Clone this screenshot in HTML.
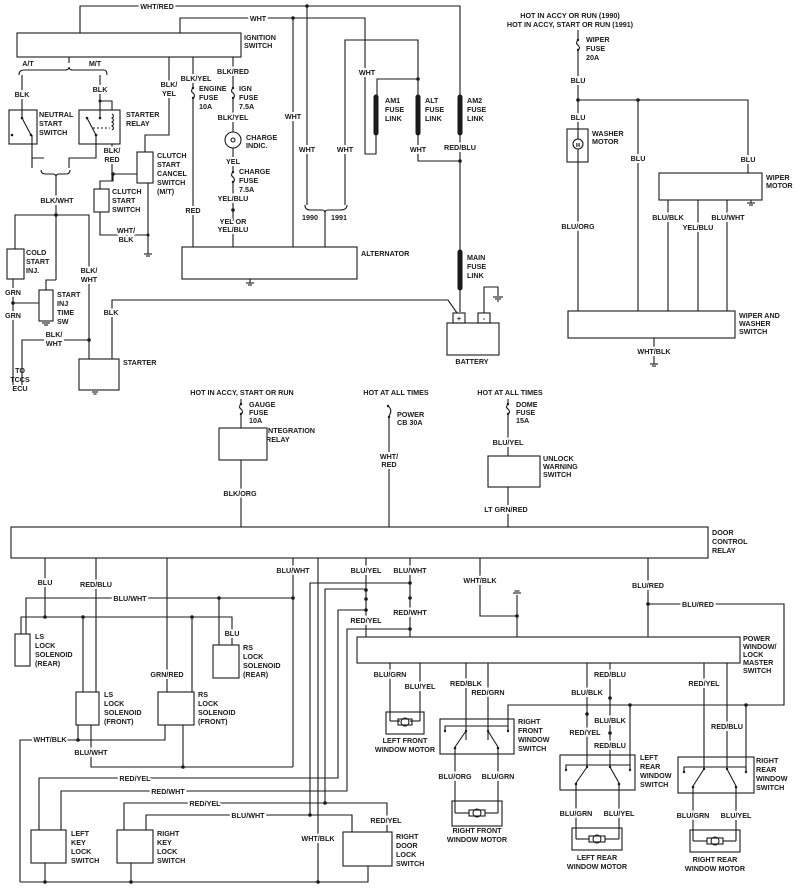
<!DOCTYPE html>
<html><head><meta charset="utf-8">
<style>
html,body{margin:0;padding:0;background:#fff;}
svg{display:block;}
text{font-family:"Liberation Sans",sans-serif;font-size:7.2px;fill:#1a1a1a;font-weight:bold;}
.m{text-anchor:middle;}
.w{paint-order:stroke;stroke:#fff;stroke-width:4px;stroke-linejoin:round;}
line,polyline,rect,path,circle{stroke:#1a1a1a;stroke-width:1.1;fill:none;}
.d{fill:#1a1a1a;stroke:none;}
.fl{stroke-width:5;stroke-linecap:round;}
</style></head><body>
<svg width="800" height="892" viewBox="0 0 800 892" xmlns="http://www.w3.org/2000/svg">
<!-- ===== TOP LEFT ===== -->
<rect x="17" y="33" width="224" height="24"/>
<text x="244" y="40">IGNITION</text><text x="244" y="48">SWITCH</text>
<polyline points="80,33 80,6 460,6 460,95"/>
<text x="157" y="9" class="m w">WHT/RED</text>
<circle cx="307" cy="6" r="1.8" class="d"/>
<polyline points="180,33 180,18 365,18 365,154 376,154 376,135"/>
<text x="258" y="21" class="m w">WHT</text>
<circle cx="293" cy="18" r="1.8" class="d"/>
<polyline points="345,205 345,40 418,40 418,95"/>
<circle cx="418" cy="79" r="1.8" class="d"/>
<polyline points="418,79 377,79 377,95"/>
<text x="367" y="75" class="m w">WHT</text>
<line x1="376" y1="97" x2="376" y2="133" class="fl"/>
<line x1="418" y1="97" x2="418" y2="133" class="fl"/>
<line x1="460" y1="97" x2="460" y2="133" class="fl"/>
<text x="385" y="103">AM1</text><text x="385" y="112">FUSE</text><text x="385" y="121">LINK</text>
<text x="425" y="103">ALT</text><text x="425" y="112">FUSE</text><text x="425" y="121">LINK</text>
<text x="467" y="103">AM2</text><text x="467" y="112">FUSE</text><text x="467" y="121">LINK</text>
<polyline points="418,135 418,161 460,161"/>
<text x="418" y="152" class="m w">WHT</text>
<line x1="460" y1="135" x2="460" y2="250"/>
<text x="460" y="150" class="m w">RED/BLU</text>
<circle cx="460" cy="161" r="1.8" class="d"/>
<line x1="460" y1="252" x2="460" y2="288" class="fl"/>
<text x="467" y="260">MAIN</text><text x="467" y="269">FUSE</text><text x="467" y="278">LINK</text>
<line x1="460" y1="290" x2="460" y2="312"/>
<rect x="447" y="323" width="52" height="32"/>
<rect x="453" y="313" width="12" height="10"/><rect x="478" y="313" width="12" height="10"/>
<text x="459" y="321" class="m">+</text><text x="484" y="321" class="m">-</text>
<text x="472" y="364" class="m">BATTERY</text>
<polyline points="484,313 484,287 498,287 498,296"/>
<line x1="493" y1="297" x2="503" y2="297"/><line x1="495" y1="299" x2="501" y2="299"/><line x1="497" y1="301" x2="499" y2="301"/>
<polyline points="457,313 448,300 112,300 112,359"/>
<text x="111" y="315" class="m w">BLK</text>
<!-- alternator -->
<rect x="182" y="247" width="175" height="32"/>
<text x="361" y="256">ALTERNATOR</text>
<line x1="250" y1="279" x2="250" y2="283"/><line x1="246" y1="283" x2="254" y2="283"/><line x1="248" y1="285" x2="252" y2="285"/>
<line x1="293" y1="18" x2="293" y2="247"/>
<text x="293" y="119" class="m w">WHT</text>
<line x1="307" y1="6" x2="307" y2="205"/>
<text x="307" y="152" class="m w">WHT</text>
<text x="345" y="152" class="m w">WHT</text>
<path d="M305,205 Q305,210 310,210 L322,210 Q325,210 325,213 Q325,210 328,210 L340,210 Q347,210 347,205"/>
<line x1="325" y1="212" x2="325" y2="247"/>
<text x="310" y="220" class="m w">1990</text><text x="339" y="220" class="m w">1991</text>
<!-- A/T M/T -->
<text x="28" y="66" class="m">A/T</text><text x="95" y="66" class="m">M/T</text>
<line x1="69" y1="57" x2="69" y2="63"/>
<path d="M19,75 Q19,70 24,70 L65,70 Q69,70 69,67 Q69,70 73,70 L104,70 Q107,70 107,75"/>
<line x1="22" y1="75" x2="22" y2="110"/><text x="22" y="97" class="m w">BLK</text>
<line x1="100" y1="75" x2="100" y2="110"/><text x="100" y="92" class="m w">BLK</text>
<rect x="9" y="110" width="28" height="34"/>
<text x="39" y="117">NEUTRAL</text><text x="39" y="126">START</text><text x="39" y="135">SWITCH</text>
<line x1="22" y1="110" x2="22" y2="118"/><circle cx="22" cy="118" r="1.3" class="d"/>
<line x1="22" y1="118" x2="31" y2="135"/><circle cx="31" cy="135" r="1.3" class="d"/><circle cx="12" cy="135" r="1.3" class="d"/>
<polyline points="32,135 32,158 44,158"/>
<rect x="79" y="110" width="41" height="34"/>
<text x="126" y="117">STARTER</text><text x="126" y="126">RELAY</text>
<polyline points="100,110 100,101 112,101 112,110"/><circle cx="100" cy="101" r="1.5" class="d"/>
<line x1="100" y1="110" x2="100" y2="118"/><circle cx="100" cy="118" r="1.3" class="d"/>
<line x1="87" y1="118" x2="96" y2="135"/><circle cx="87" cy="118" r="1.3" class="d"/><circle cx="96" cy="135" r="1.3" class="d"/>
<path d="M112,114 q3,2 0,4 q3,2 0,4 q3,2 0,4 q3,2 0,4" /><line x1="93" y1="128" x2="110" y2="128" stroke-dasharray="2,2"/>
<polyline points="96,135 96,158 69,158 69,168"/>
<polyline points="32,158 32,168"/>
<path d="M41,170 Q41,174 46,174 L53,174 Q56,174 56,177 Q56,174 59,174 L66,174 Q70,174 70,170"/>
<line x1="56" y1="177" x2="56" y2="280"/>
<text x="57" y="203" class="m w">BLK/WHT</text>
<circle cx="56" cy="215" r="1.8" class="d"/>
<polyline points="15,249 15,215 89,215 89,359"/>
<text x="89" y="273" class="m w">BLK/</text><text x="89" y="282" class="m w">WHT</text>
<rect x="7" y="249" width="17" height="30"/>
<text x="26" y="255">COLD</text><text x="26" y="264">START</text><text x="26" y="273">INJ.</text>
<line x1="13" y1="279" x2="13" y2="385"/>
<text x="13" y="295" class="m w">GRN</text><text x="13" y="318" class="m w">GRN</text>
<circle cx="13" cy="303" r="1.8" class="d"/><line x1="13" y1="303" x2="39" y2="303"/>
<polyline points="56,280 46,280 46,290"/>
<rect x="39" y="290" width="14" height="31"/>
<text x="57" y="297">START</text><text x="57" y="306">INJ</text><text x="57" y="315">TIME</text><text x="57" y="324">SW</text>
<line x1="42" y1="323" x2="50" y2="323"/><line x1="44" y1="325" x2="48" y2="325"/>
<polyline points="22,385 22,340 89,340"/><circle cx="89" cy="340" r="1.8" class="d"/>
<text x="54" y="337" class="m w">BLK/</text><text x="54" y="346" class="m w">WHT</text>
<text x="20" y="373" class="m">TO</text><text x="20" y="382" class="m">TCCS</text><text x="20" y="391" class="m">ECU</text>
<rect x="79" y="359" width="40" height="31"/>
<text x="123" y="365">STARTER</text>
<line x1="92" y1="392" x2="98" y2="392"/><line x1="93.5" y1="394" x2="96.5" y2="394"/>
<!-- clutch -->
<polyline points="169,57 169,135 145,135 145,152"/>
<text x="169" y="87" class="m w">BLK/</text><text x="169" y="96" class="m w">YEL</text>
<rect x="137" y="152" width="16" height="31"/>
<text x="157" y="158">CLUTCH</text><text x="157" y="167">START</text><text x="157" y="176">CANCEL</text><text x="157" y="185">SWITCH</text><text x="157" y="194">(M/T)</text>
<line x1="112" y1="144" x2="112" y2="181"/>
<text x="112" y="153" class="m w">BLK/</text><text x="112" y="162" class="m w">RED</text>
<circle cx="113" cy="174" r="1.8" class="d"/><line x1="113" y1="174" x2="137" y2="174"/>
<polyline points="113,174 113,181 100,181 100,189"/>
<rect x="94" y="189" width="15" height="23"/>
<text x="112" y="194">CLUTCH</text><text x="112" y="203">START</text><text x="112" y="212">SWITCH</text>
<polyline points="100,212 100,235 148,235"/>
<text x="126" y="233" class="m w">WHT/</text><text x="126" y="242" class="m w">BLK</text>
<line x1="148" y1="183" x2="148" y2="254"/><circle cx="148" cy="235" r="1.5" class="d"/>
<line x1="144" y1="254" x2="152" y2="254"/><line x1="146" y1="256" x2="150" y2="256"/>
<!-- engine fuse -->
<line x1="193" y1="57" x2="193" y2="88"/><path d="M193,88 q-3,3 0,5 q3,3 0,5"/><line x1="193" y1="98" x2="193" y2="247"/>
<circle cx="193" cy="88" r="1.2" class="d"/><circle cx="193" cy="98" r="1.2" class="d"/>
<text x="196" y="81" class="m w">BLK/YEL</text>
<text x="199" y="91">ENGINE</text><text x="199" y="100">FUSE</text><text x="199" y="109">10A</text>
<text x="193" y="213" class="m w">RED</text>
<line x1="233" y1="57" x2="233" y2="88"/><path d="M233,88 q-3,3 0,5 q3,3 0,5"/><line x1="233" y1="98" x2="233" y2="132"/>
<circle cx="233" cy="88" r="1.2" class="d"/><circle cx="233" cy="98" r="1.2" class="d"/>
<text x="233" y="74" class="m w">BLK/RED</text>
<text x="239" y="91">IGN</text><text x="239" y="100">FUSE</text><text x="239" y="109">7.5A</text>
<text x="233" y="120" class="m w">BLK/YEL</text>
<circle cx="233" cy="140" r="8"/><circle cx="233" cy="140" r="2"/>
<text x="246" y="140">CHARGE</text><text x="246" y="148">INDIC.</text>
<line x1="233" y1="148" x2="233" y2="172"/>
<text x="233" y="164" class="m w">YEL</text>
<path d="M233,172 q-3,3 0,5 q3,3 0,5"/><circle cx="233" cy="172" r="1.2" class="d"/><circle cx="233" cy="182" r="1.2" class="d"/>
<text x="239" y="174">CHARGE</text><text x="239" y="183">FUSE</text><text x="239" y="192">7.5A</text>
<line x1="233" y1="182" x2="233" y2="247"/>
<text x="233" y="201" class="m w">YEL/BLU</text>
<circle cx="233" cy="210" r="1.8" class="d"/>
<text x="233" y="224" class="m w">YEL OR</text><text x="233" y="232" class="m w">YEL/BLU</text>
<!-- ===== TOP RIGHT WIPER ===== -->
<text x="570" y="18" class="m">HOT IN ACCY OR RUN (1990)</text>
<text x="570" y="27" class="m">HOT IN ACCY, START OR RUN (1991)</text>
<line x1="578" y1="30" x2="578" y2="40"/><path d="M578,40 q-3,3 0,5 q3,3 0,5"/><line x1="578" y1="50" x2="578" y2="129"/>
<circle cx="578" cy="40" r="1.2" class="d"/><circle cx="578" cy="50" r="1.2" class="d"/>
<text x="586" y="42">WIPER</text><text x="586" y="51">FUSE</text><text x="586" y="60">20A</text>
<text x="578" y="83" class="m w">BLU</text>
<circle cx="578" cy="100" r="1.8" class="d"/>
<polyline points="578,100 748,100 748,173"/>
<circle cx="638" cy="100" r="1.8" class="d"/>
<line x1="638" y1="100" x2="638" y2="311"/>
<text x="578" y="120" class="m w">BLU</text>
<rect x="567" y="129" width="21" height="33"/>
<circle cx="578" cy="144" r="5"/><text x="578" y="147" class="m" style="font-size:5px">M</text>
<line x1="578" y1="129" x2="578" y2="139"/><line x1="578" y1="149" x2="578" y2="162"/>
<text x="592" y="136">WASHER</text><text x="592" y="144">MOTOR</text>
<line x1="578" y1="162" x2="578" y2="311"/>
<text x="578" y="229" class="m w">BLU/ORG</text>
<text x="638" y="161" class="m w">BLU</text><text x="748" y="162" class="m w">BLU</text>
<rect x="659" y="173" width="103" height="27"/>
<text x="766" y="180">WIPER</text><text x="766" y="188">MOTOR</text>
<line x1="751" y1="200" x2="751" y2="203"/><line x1="747" y1="203" x2="755" y2="203"/><line x1="749" y1="205" x2="753" y2="205"/>
<line x1="668" y1="200" x2="668" y2="311"/><line x1="698" y1="200" x2="698" y2="311"/><line x1="727" y1="200" x2="727" y2="311"/>
<text x="668" y="220" class="m w">BLU/BLK</text><text x="698" y="230" class="m w">YEL/BLU</text><text x="728" y="220" class="m w">BLU/WHT</text>
<rect x="568" y="311" width="167" height="27"/>
<text x="739" y="318">WIPER AND</text><text x="739" y="326">WASHER</text><text x="739" y="334">SWITCH</text>
<line x1="654" y1="338" x2="654" y2="364"/>
<text x="654" y="354" class="m w">WHT/BLK</text>
<line x1="650" y1="364" x2="658" y2="364"/><line x1="652" y1="366" x2="656" y2="366"/>
<!-- ===== MIDDLE ===== -->
<text x="242" y="395" class="m">HOT IN ACCY, START OR RUN</text>
<line x1="241" y1="399" x2="241" y2="404"/><path d="M241,404 q-3,3 0,5 q3,3 0,5"/><line x1="241" y1="414" x2="241" y2="428"/>
<circle cx="241" cy="404" r="1.2" class="d"/><circle cx="241" cy="414" r="1.2" class="d"/>
<text x="249" y="407">GAUGE</text><text x="249" y="415">FUSE</text><text x="249" y="423">10A</text>
<rect x="219" y="428" width="48" height="32"/>
<text x="266" y="433">INTEGRATION</text><text x="266" y="442">RELAY</text>
<line x1="241" y1="460" x2="241" y2="527"/>
<text x="240" y="496" class="m w">BLK/ORG</text>
<text x="396" y="395" class="m">HOT AT ALL TIMES</text>
<circle cx="388" cy="406" r="1.2" class="d"/><path d="M388,406 q5,4 1,10"/><circle cx="389" cy="417" r="1.2" class="d"/>
<line x1="389" y1="417" x2="389" y2="527"/>
<text x="397" y="417">POWER</text><text x="397" y="425">CB 30A</text>
<text x="389" y="459" class="m w">WHT/</text><text x="389" y="467" class="m w">RED</text>
<text x="510" y="395" class="m">HOT AT ALL TIMES</text>
<line x1="508" y1="399" x2="508" y2="404"/><path d="M508,404 q-3,3 0,5 q3,3 0,5"/><line x1="508" y1="414" x2="508" y2="456"/>
<circle cx="508" cy="404" r="1.2" class="d"/><circle cx="508" cy="414" r="1.2" class="d"/>
<text x="516" y="407">DOME</text><text x="516" y="415">FUSE</text><text x="516" y="423">15A</text>
<text x="508" y="445" class="m w">BLU/YEL</text>
<rect x="488" y="456" width="52" height="31"/>
<text x="543" y="461">UNLOCK</text><text x="543" y="469">WARNING</text><text x="543" y="477">SWITCH</text>
<line x1="508" y1="487" x2="508" y2="527"/>
<text x="506" y="512" class="m w">LT GRN/RED</text>
<!-- door control relay -->
<rect x="11" y="527" width="697" height="31"/>
<text x="712" y="535">DOOR</text><text x="712" y="544">CONTROL</text><text x="712" y="553">RELAY</text>
<!-- ===== LOWER LEFT ===== -->
<line x1="45" y1="558" x2="45" y2="617"/><text x="45" y="585" class="m w">BLU</text>
<line x1="96" y1="558" x2="96" y2="692"/><text x="96" y="587" class="m w">RED/BLU</text>
<line x1="167" y1="558" x2="167" y2="692"/><text x="167" y="677" class="m w">GRN/RED</text>
<line x1="293" y1="558" x2="293" y2="767"/><text x="293" y="573" class="m w">BLU/WHT</text>
<polyline points="26,634 26,598 293,598"/><text x="130" y="601" class="m w">BLU/WHT</text>
<circle cx="293" cy="598" r="1.8" class="d"/><circle cx="219" cy="598" r="1.8" class="d"/>
<line x1="219" y1="598" x2="219" y2="645"/>
<polyline points="21,634 21,617 232,617 232,645"/>
<text x="232" y="636" class="m w">BLU</text>
<circle cx="45" cy="617" r="1.8" class="d"/><circle cx="83" cy="617" r="1.8" class="d"/><circle cx="192" cy="617" r="1.8" class="d"/>
<rect x="15" y="634" width="15" height="32"/>
<text x="35" y="639">LS</text><text x="35" y="648">LOCK</text><text x="35" y="657">SOLENOID</text><text x="35" y="666">(REAR)</text>
<rect x="213" y="645" width="26" height="33"/>
<text x="243" y="650">RS</text><text x="243" y="659">LOCK</text><text x="243" y="668">SOLENOID</text><text x="243" y="677">(REAR)</text>
<line x1="83" y1="617" x2="83" y2="692"/><line x1="192" y1="617" x2="192" y2="692"/>
<rect x="76" y="692" width="23" height="33"/>
<text x="104" y="697">LS</text><text x="104" y="706">LOCK</text><text x="104" y="715">SOLENOID</text><text x="104" y="724">(FRONT)</text>
<rect x="158" y="692" width="36" height="33"/>
<text x="198" y="697">RS</text><text x="198" y="706">LOCK</text><text x="198" y="715">SOLENOID</text><text x="198" y="724">(FRONT)</text>
<polyline points="20,882 20,740 165,740 165,725"/>
<text x="50" y="742" class="m w">WHT/BLK</text>
<line x1="78" y1="725" x2="78" y2="740"/><circle cx="78" cy="740" r="1.8" class="d"/>
<polyline points="91,725 91,767 293,767"/><text x="91" y="755" class="m w">BLU/WHT</text>
<line x1="183" y1="725" x2="183" y2="767"/><circle cx="183" cy="767" r="1.8" class="d"/>
<polyline points="39,830 39,778 338,778 338,610 366,610"/><text x="135" y="781" class="m w">RED/YEL</text>
<polyline points="61,830 61,791 347,791 347,629 410,629"/><text x="168" y="794" class="m w">RED/WHT</text>
<polyline points="124,830 124,803 387,803 387,832"/><text x="205" y="806" class="m w">RED/YEL</text>
<polyline points="146,830 146,815 352,815 352,832"/><text x="248" y="818" class="m w">BLU/WHT</text>
<polyline points="310,815 310,583 410,583"/><circle cx="310" cy="815" r="1.8" class="d"/>
<polyline points="325,803 325,589 366,589"/><circle cx="325" cy="803" r="1.8" class="d"/>
<line x1="318" y1="558" x2="318" y2="882"/><text x="318" y="841" class="m w">WHT/BLK</text>
<text x="386" y="823" class="m w">RED/YEL</text>
<rect x="31" y="830" width="35" height="33"/>
<text x="71" y="836">LEFT</text><text x="71" y="845">KEY</text><text x="71" y="854">LOCK</text><text x="71" y="863">SWITCH</text>
<rect x="117" y="830" width="36" height="33"/>
<text x="157" y="836">RIGHT</text><text x="157" y="845">KEY</text><text x="157" y="854">LOCK</text><text x="157" y="863">SWITCH</text>
<rect x="343" y="832" width="49" height="34"/>
<text x="396" y="839">RIGHT</text><text x="396" y="848">DOOR</text><text x="396" y="857">LOCK</text><text x="396" y="866">SWITCH</text>
<polyline points="20,882 368,882 368,866"/>
<line x1="45" y1="863" x2="45" y2="882"/><line x1="131" y1="863" x2="131" y2="882"/>
<circle cx="45" cy="882" r="1.8" class="d"/><circle cx="131" cy="882" r="1.8" class="d"/><circle cx="318" cy="882" r="1.8" class="d"/>
<!-- ===== LOWER RIGHT ===== -->
<line x1="366" y1="558" x2="366" y2="637"/><text x="366" y="573" class="m w">BLU/YEL</text>
<circle cx="366" cy="590" r="1.8" class="d"/><circle cx="366" cy="599" r="1.8" class="d"/><circle cx="366" cy="610" r="1.8" class="d"/>
<text x="366" y="623" class="m w">RED/YEL</text>
<line x1="410" y1="558" x2="410" y2="637"/><text x="410" y="573" class="m w">BLU/WHT</text>
<circle cx="410" cy="583" r="1.8" class="d"/><circle cx="410" cy="598" r="1.8" class="d"/><circle cx="410" cy="629" r="1.8" class="d"/>
<text x="410" y="615" class="m w">RED/WHT</text>
<polyline points="480,558 480,616 517,616"/><text x="480" y="583" class="m w">WHT/BLK</text>
<line x1="517" y1="595" x2="517" y2="637"/><circle cx="517" cy="616" r="1.8" class="d"/>
<line x1="513" y1="593" x2="521" y2="593"/><line x1="514.5" y1="591" x2="519.5" y2="591"/>
<line x1="648" y1="558" x2="648" y2="637"/><text x="648" y="588" class="m w">BLU/RED</text>
<circle cx="648" cy="604" r="1.8" class="d"/>
<polyline points="648,604 784,604 784,705 508,705 508,726"/>
<text x="698" y="607" class="m w">BLU/RED</text>
<circle cx="630" cy="705" r="1.8" class="d"/><circle cx="746" cy="705" r="1.8" class="d"/>
<rect x="357" y="637" width="383" height="26"/>
<text x="743" y="641">POWER</text><text x="743" y="649">WINDOW/</text><text x="743" y="657">LOCK</text><text x="743" y="665">MASTER</text><text x="743" y="673">SWITCH</text>
<!-- left front motor -->
<line x1="390" y1="663" x2="390" y2="721"/><line x1="420" y1="663" x2="420" y2="721"/>
<text x="390" y="677" class="m w">BLU/GRN</text><text x="420" y="689" class="m w">BLU/YEL</text>
<rect x="386" y="712" width="38" height="22"/>
<polyline points="390,721 400,721"/><polyline points="410,721 420,721"/>
<circle cx="405" cy="722" r="4"/><rect x="398" y="719" width="14" height="6"/>
<text x="405" y="743" class="m">LEFT FRONT</text><text x="405" y="752" class="m">WINDOW MOTOR</text>
<!-- right front switch -->
<line x1="466" y1="663" x2="466" y2="740"/><line x1="488" y1="663" x2="488" y2="740"/>
<text x="466" y="686" class="m w">RED/BLK</text><text x="488" y="695" class="m w">RED/GRN</text>
<rect x="440" y="719" width="74" height="35"/>
<polyline points="445,731 445,726 508,726 508,731"/>
<circle cx="445" cy="731" r="1.2" class="d"/><circle cx="508" cy="731" r="1.2" class="d"/>
<circle cx="466" cy="731" r="1.2" class="d"/><circle cx="488" cy="731" r="1.2" class="d"/>
<line x1="466" y1="731" x2="455" y2="747"/><line x1="488" y1="731" x2="498" y2="747"/>
<circle cx="455" cy="748" r="1.3" class="d"/><circle cx="498" cy="748" r="1.3" class="d"/>
<text x="518" y="724">RIGHT</text><text x="518" y="733">FRONT</text><text x="518" y="742">WINDOW</text><text x="518" y="751">SWITCH</text>
<line x1="455" y1="748" x2="455" y2="813"/><line x1="498" y1="748" x2="498" y2="813"/>
<text x="455" y="779" class="m w">BLU/ORG</text><text x="498" y="779" class="m w">BLU/GRN</text>
<rect x="452" y="801" width="50" height="25"/>
<polyline points="455,813 469,813"/><polyline points="485,813 498,813"/>
<circle cx="477" cy="813" r="4"/><rect x="469" y="810" width="16" height="6"/>
<text x="477" y="833" class="m">RIGHT FRONT</text><text x="477" y="842" class="m">WINDOW MOTOR</text>
<!-- left rear -->
<line x1="587" y1="663" x2="587" y2="766"/><line x1="610" y1="663" x2="610" y2="766"/>
<text x="610" y="677" class="m w">RED/BLU</text><text x="587" y="695" class="m w">BLU/BLK</text>
<circle cx="587" cy="714" r="1.8" class="d"/><circle cx="610" cy="698" r="1.8" class="d"/>
<text x="610" y="723" class="m w">BLU/BLK</text><text x="585" y="735" class="m w">RED/YEL</text>
<circle cx="610" cy="733" r="1.8" class="d"/>
<text x="610" y="748" class="m w">RED/BLU</text>
<line x1="630" y1="705" x2="630" y2="766"/>
<rect x="560" y="755" width="75" height="35"/>
<polyline points="566,770 566,765 630,765 630,770"/>
<circle cx="566" cy="770" r="1.2" class="d"/><circle cx="630" cy="770" r="1.2" class="d"/>
<circle cx="587" cy="767" r="1.2" class="d"/><circle cx="610" cy="767" r="1.2" class="d"/>
<line x1="587" y1="767" x2="576" y2="783"/><line x1="610" y1="767" x2="619" y2="783"/>
<circle cx="576" cy="784" r="1.3" class="d"/><circle cx="619" cy="784" r="1.3" class="d"/>
<text x="640" y="760">LEFT</text><text x="640" y="769">REAR</text><text x="640" y="778">WINDOW</text><text x="640" y="787">SWITCH</text>
<line x1="576" y1="784" x2="576" y2="839"/><line x1="619" y1="784" x2="619" y2="839"/>
<text x="576" y="816" class="m w">BLU/GRN</text><text x="619" y="816" class="m w">BLU/YEL</text>
<rect x="572" y="828" width="50" height="22"/>
<polyline points="576,839 589,839"/><polyline points="605,839 619,839"/>
<circle cx="597" cy="839" r="4"/><rect x="589" y="836" width="16" height="6"/>
<text x="597" y="860" class="m">LEFT REAR</text><text x="597" y="869" class="m">WINDOW MOTOR</text>
<!-- right rear -->
<line x1="704" y1="663" x2="704" y2="769"/><line x1="727" y1="663" x2="727" y2="769"/>
<text x="704" y="686" class="m w">RED/YEL</text><text x="727" y="729" class="m w">RED/BLU</text>
<line x1="746" y1="705" x2="746" y2="770"/>
<rect x="678" y="757" width="76" height="36"/>
<polyline points="684,772 684,767 746,767 746,772"/>
<circle cx="684" cy="772" r="1.2" class="d"/><circle cx="746" cy="772" r="1.2" class="d"/>
<circle cx="704" cy="769" r="1.2" class="d"/><circle cx="727" cy="769" r="1.2" class="d"/>
<line x1="704" y1="769" x2="693" y2="786"/><line x1="727" y1="769" x2="736" y2="786"/>
<circle cx="693" cy="787" r="1.3" class="d"/><circle cx="736" cy="787" r="1.3" class="d"/>
<text x="756" y="763">RIGHT</text><text x="756" y="772">REAR</text><text x="756" y="781">WINDOW</text><text x="756" y="790">SWITCH</text>
<line x1="693" y1="787" x2="693" y2="841"/><line x1="736" y1="787" x2="736" y2="841"/>
<text x="693" y="818" class="m w">BLU/GRN</text><text x="736" y="818" class="m w">BLU/YEL</text>
<rect x="690" y="830" width="50" height="22"/>
<polyline points="693,841 707,841"/><polyline points="723,841 736,841"/>
<circle cx="715" cy="841" r="4"/><rect x="707" y="838" width="16" height="6"/>
<text x="715" y="862" class="m">RIGHT REAR</text><text x="715" y="871" class="m">WINDOW MOTOR</text>
</svg>
</body></html>
